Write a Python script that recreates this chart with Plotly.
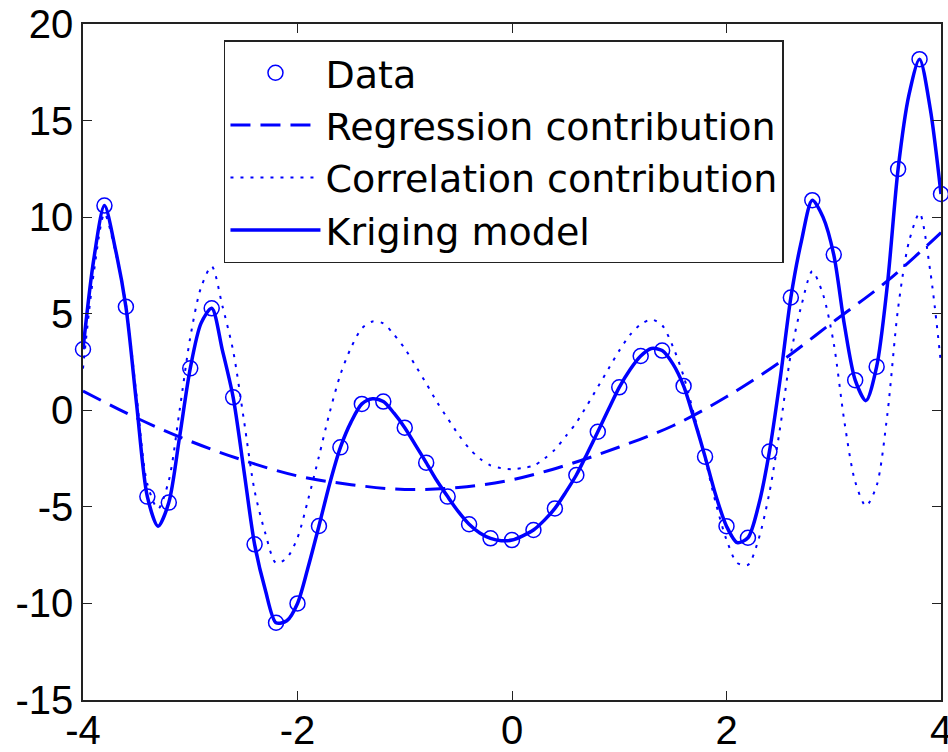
import plotly.graph_objects as go

# Observed data points (x spacing 0.2)
data_x = [-4.0, -3.8, -3.6, -3.4, -3.2, -3.0, -2.8, -2.6, -2.4, -2.2, -2.0,
          -1.8, -1.6, -1.4, -1.2, -1.0, -0.8, -0.6, -0.4, -0.2, 0.0,
          0.2, 0.4, 0.6, 0.8, 1.0, 1.2, 1.4, 1.6, 1.8, 2.0,
          2.2, 2.4, 2.6, 2.8, 3.0, 3.2, 3.4, 3.6, 3.8, 4.0]
data_y = [3.16, 10.6, 5.36, -4.47, -4.78, 2.17, 5.28, 0.67, -6.94, -11.0, -10.0,
          -5.99, -1.92, 0.33, 0.45, -0.9, -2.71, -4.47, -5.9, -6.63, -6.72,
          -6.2, -5.08, -3.35, -1.11, 1.19, 2.81, 3.09, 1.26, -2.4, -6.0,
          -6.6, -2.14, 5.84, 10.88, 8.06, 1.56, 2.26, 12.49, 18.18, 11.2]

# Curves read at x spacing 0.1
curve_x = [-4.0, -3.9, -3.8, -3.7, -3.6, -3.5, -3.4, -3.3, -3.2, -3.1,
           -3.0, -2.9, -2.8, -2.7, -2.6, -2.5, -2.4, -2.3, -2.2, -2.1,
           -2.0, -1.9, -1.8, -1.7, -1.6, -1.5, -1.4, -1.3, -1.2, -1.1,
           -1.0, -0.9, -0.8, -0.7, -0.6, -0.5, -0.4, -0.3, -0.2, -0.1,
           0.0, 0.1, 0.2, 0.3, 0.4, 0.5, 0.6, 0.7, 0.8, 0.9,
           1.0, 1.1, 1.2, 1.3, 1.4, 1.5, 1.6, 1.7, 1.8, 1.9,
           2.0, 2.1, 2.2, 2.3, 2.4, 2.5, 2.6, 2.7, 2.8, 2.9,
           3.0, 3.1, 3.2, 3.3, 3.4, 3.5, 3.6, 3.7, 3.8, 3.9, 4.0]

kriging_y = [3.16, 7.8, 10.6, 8.4, 5.36, 0.3, -4.47, -6.0, -4.78, -1.4,
             2.17, 4.5, 5.28, 3.1, 0.67, -3.1, -6.94, -9.3, -11.0, -10.9,
             -10.0, -8.1, -5.99, -3.8, -1.92, -0.6, 0.33, 0.6, 0.45, -0.15,
             -0.9, -1.8, -2.71, -3.65, -4.47, -5.25, -5.9, -6.35, -6.63, -6.75,
             -6.72, -6.5, -6.2, -5.7, -5.08, -4.25, -3.35, -2.25, -1.11, 0.05,
             1.19, 2.1, 2.81, 3.2, 3.09, 2.4, 1.26, -0.5, -2.4, -4.4,
             -6.0, -6.85, -6.6, -4.9, -2.14, 1.6, 5.84, 8.8, 10.88, 10.0,
             8.06, 4.4, 1.56, 0.5, 2.26, 6.5, 12.49, 16.3, 18.18, 15.6, 11.2]

correlation_y = [2.16, 7.1, 10.18, 8.26, 5.49, 0.7, -3.82, -5.1, -3.64, -0.03,
                 3.77, 6.35, 7.45, 5.4, 3.08, -0.5, -4.17, -6.37, -7.91, -7.65,
                 -6.6, -4.6, -2.39, -0.11, 1.85, 3.25, 4.24, 4.6, 4.5, 3.92,
                 3.2, 2.31, 1.39, 0.43, -0.42, -1.25, -1.97, -2.5, -2.86, -3.0,
                 -3.05, -2.98, -2.87, -2.51, -2.03, -1.35, -0.64, 0.26, 1.2, 2.15,
                 3.09, 3.9, 4.45, 4.7, 4.4, 3.3, 1.77, -0.29, -2.49, -4.8,
                 -6.7, -7.9, -8.0, -6.66, -4.27, -0.9, 2.92, 5.46, 7.2, 6.0,
                 3.46, -0.62, -3.7, -4.95, -3.9, -0.2, 5.29, 8.7, 10.2, 7.2, 2.4]

# Regression trend read at x spacing 0.5
reg_x = [-4.0, -3.5, -3.0, -2.5, -2.0, -1.5, -1.0, -0.5, 0.0,
         0.5, 1.0, 1.5, 2.0, 2.5, 3.0, 3.5, 4.0]
reg_y = [1.0, -0.4, -1.6, -2.6, -3.4, -3.85, -4.1, -4.0, -3.6,
         -2.85, -1.9, -0.8, 0.7, 2.5, 4.6, 6.7, 9.2]

x_ticks = [-4, -2, 0, 2, 4]
y_ticks = [-15, -10, -5, 0, 5, 10, 15, 20]

BLUE = "#0000FF"

fig = go.Figure()
fig.add_trace(go.Scatter(
    x=data_x, y=data_y, mode="markers", name="Data", cliponaxis=False,
    marker=dict(symbol="circle-open", size=15, color=BLUE, line=dict(width=1.5, color=BLUE)),
))
fig.add_trace(go.Scatter(
    x=reg_x, y=reg_y, mode="lines", name="Regression contribution",
    line=dict(color=BLUE, width=3, dash="20px,10px", shape="spline"),
))
fig.add_trace(go.Scatter(
    x=curve_x, y=correlation_y, mode="lines", name="Correlation contribution",
    line=dict(color=BLUE, width=2, dash="3px,7px", shape="spline", smoothing=0.8),
))
fig.add_trace(go.Scatter(
    x=curve_x, y=kriging_y, mode="lines", name="Kriging model",
    line=dict(color=BLUE, width=3.5, shape="spline", smoothing=0.8),
))

axis_common = dict(
    showgrid=False, zeroline=False, showline=True, linecolor="#222222", linewidth=1.5,
    mirror="ticks", ticks="inside", ticklen=9, tickwidth=1.2, tickcolor="#222222",
    tickfont=dict(family="Liberation Sans, Arial, sans-serif", size=40, color="black"),
    automargin=False,
)

fig.update_layout(
    width=948, height=752,
    margin=dict(l=83, r=7, t=24, b=52),
    paper_bgcolor="white", plot_bgcolor="white",
    showlegend=True,
    legend=dict(
        x=0.1643, y=0.9763, xanchor="left", yanchor="top",
        bgcolor="white", bordercolor="#222222", borderwidth=1.5,
        font=dict(family="DejaVu Sans, sans-serif", size=38, color="black"),
        itemwidth=90, tracegroupgap=0,
    ),
    xaxis=dict(range=[-4, 4], tickvals=x_ticks, ticktext=[str(v) for v in x_ticks], **axis_common),
    yaxis=dict(range=[-15, 20], tickvals=y_ticks, ticktext=[str(v) for v in y_ticks], **axis_common),
)

try:
    fig.update_xaxes(ticklabelstandoff=-6)
except Exception:
    pass
try:
    fig.update_xaxes(ticklabeloverflow="allow")
except Exception:
    pass

fig.write_html(
    "out.html",
    config={"displayModeBar": False},
    post_script="document.body.style.margin='0px';document.body.style.overflow='hidden';",
)
